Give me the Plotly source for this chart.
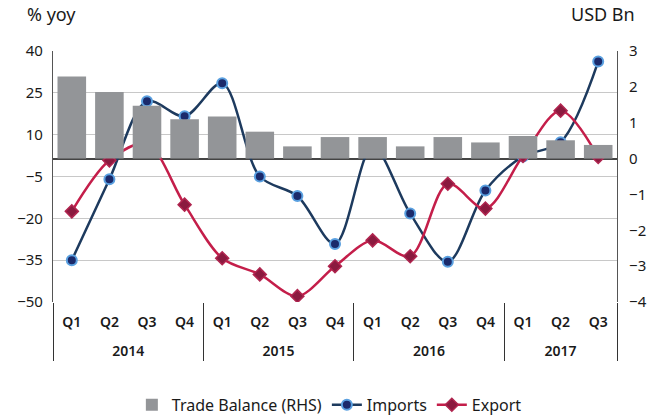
import plotly.graph_objects as go

years = ["2014"] * 4 + ["2015"] * 4 + ["2016"] * 4 + ["2017"] * 3
quarters = ["Q1", "Q2", "Q3", "Q4"] * 3 + ["Q1", "Q2", "Q3"]

trade_balance = [2.29, 1.86, 1.47, 1.10, 1.17, 0.75, 0.34, 0.60,
                 0.60, 0.34, 0.60, 0.45, 0.63, 0.51, 0.38]
imports = [-35.0, -6.0, 22.0, 16.6, 28.4, -5.0, -12.0, -29.2,
           5.8, -18.3, -35.6, -10.0, 2.2, 7.3, 36.2]
export = [-17.5, 0.8, 6.7, -15.1, -34.3, -40.1, -47.9, -37.2,
          -27.9, -33.6, -7.6, -16.5, 2.4, 18.6, 2.0]

left_ticks = [-50, -35, -20, -5, 10, 25, 40]
right_ticks = [-4, -3, -2, -1, 0, 1, 2, 3]

FONT = "Noto Sans"
year_labels = ["<br>" + y for y in years]
x = [year_labels, quarters]

fig = go.Figure()
fig.add_trace(go.Bar(
    x=x, y=trade_balance, name="Trade Balance (RHS)", yaxis="y2",
    marker=dict(color="#939598", line=dict(width=0)), width=0.76,
))
fig.add_trace(go.Scatter(
    x=x, y=imports, name="Imports", mode="lines+markers",
    line=dict(color="#1d3a5e", width=2.5, shape="spline", smoothing=0.9),
    marker=dict(symbol="circle", size=10, color="#1b2a6b",
                line=dict(color="#5aa0e0", width=2)),
))
fig.add_trace(go.Scatter(
    x=x, y=export, name="Export", mode="lines+markers",
    line=dict(color="#c41e4a", width=2.5, shape="spline", smoothing=0.9),
    marker=dict(symbol="diamond", size=10, color="#8b1a3f",
                line=dict(color="#b0254f", width=1.5)),
))

fig.update_layout(
    width=658, height=417,
    margin=dict(l=53, r=41, t=51, b=115, autoexpand=False),
    paper_bgcolor="white", plot_bgcolor="white",
    font=dict(family=FONT, size=14, color="#1a1a1a"),
    showlegend=True,
    legend=dict(orientation="h", x=0.49, xanchor="center", y=-0.41, yanchor="middle",
                font=dict(size=16, family=FONT), itemwidth=30, tracegroupgap=0),
    xaxis=dict(
        type="multicategory", range=[-0.5, 14.5], showgrid=False, showline=False, ticks="",
        tickfont=dict(size=14, family=FONT, color="#1a1a1a", weight=600),
        showdividers=True, dividercolor="#333333", dividerwidth=1,
        ticklabelstandoff=10, automargin=False,
    ),
    yaxis=dict(
        range=[-50, 40], tickvals=left_ticks, showgrid=True, gridcolor="#c8c8c8",
        gridwidth=1.2, zeroline=False, showline=True, linecolor="#555555", linewidth=1.2,
        ticks="", tickfont=dict(size=15, family=FONT), ticklabelstandoff=6,
        automargin=False,
    ),
    yaxis2=dict(
        range=[-4, 3], tickvals=right_ticks, overlaying="y", side="right",
        showgrid=False, zeroline=True, zerolinecolor="#444444", zerolinewidth=1.5,
        showline=True, linecolor="#555555", linewidth=1.2, ticks="",
        tickfont=dict(size=15, family=FONT), ticklabelstandoff=8,
        automargin=False,
    ),
    annotations=[
        dict(text="% yoy", xref="paper", yref="paper", x=-0.05, y=1.09,
             xanchor="left", yanchor="bottom", showarrow=False,
             font=dict(size=18, family=FONT)),
        dict(text="USD Bn", xref="paper", yref="paper", x=1.035, y=1.09,
             xanchor="right", yanchor="bottom", showarrow=False,
             font=dict(size=18, family=FONT)),
    ],
)

fig.write_html("out.html", config={"displayModeBar": False},
               post_script="document.body.style.margin='0';")
